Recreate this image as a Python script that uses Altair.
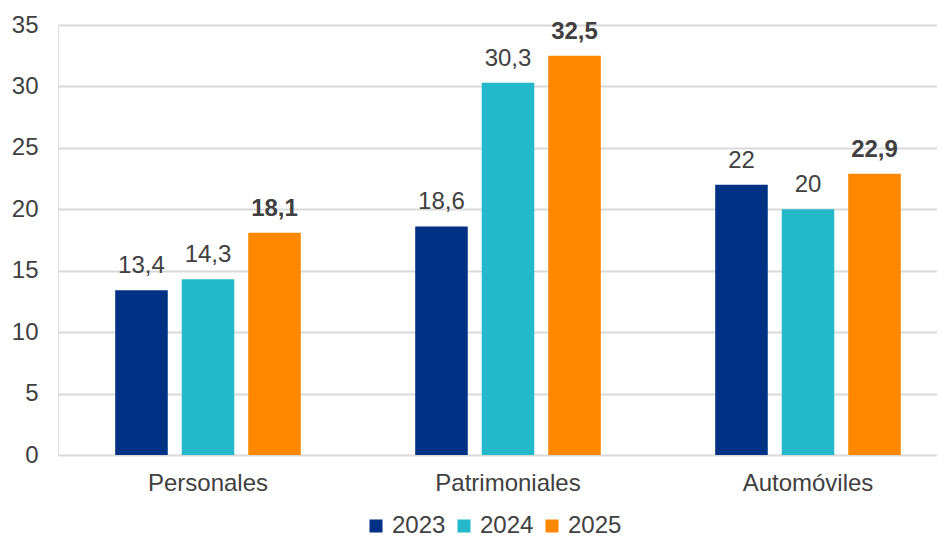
import altair as alt
import pandas as pd

categories = ["Personales", "Patrimoniales", "Automóviles"]
years = ["2023", "2024", "2025"]
values_2023 = [13.4, 18.6, 22.0]
values_2024 = [14.3, 30.3, 20.0]
values_2025 = [18.1, 32.5, 22.9]
colors = ["#003184", "#23B9CB", "#FF8800"]
y_ticks = [0, 5, 10, 15, 20, 25, 30, 35]

def fmt(v):
    s = ("%g" % v)
    return s.replace(".", ",")

rows = []
for yr, vals in zip(years, [values_2023, values_2024, values_2025]):
    for c, v in zip(categories, vals):
        rows.append({"cat": c, "year": yr, "value": v, "label": fmt(v), "bold": yr == "2025"})
df = pd.DataFrame(rows)

FONT = "Liberation Sans"
TXT = "#404040"
FS = 24

x = alt.X("cat:N", sort=categories, title=None,
          scale=alt.Scale(range=[0, 900], paddingInner=0, paddingOuter=0),
          axis=alt.Axis(labelAngle=0, labelFontSize=FS, labelColor=TXT, labelFont=FONT,
                        domain=False, ticks=False, labelPadding=16))
xo = alt.XOffset("year:N", sort=years,
                 scale=alt.Scale(paddingInner=0.21, paddingOuter=0.86))
y = alt.Y("value:Q", title=None,
          scale=alt.Scale(domain=[0, 35], nice=False),
          axis=alt.Axis(values=y_ticks, labelFontSize=FS, labelColor=TXT, labelFont=FONT,
                        domain=False, ticks=False, labelPadding=20,
                        gridColor="#D9D9D9", gridWidth=2))

bars = alt.Chart(df).mark_bar().encode(
    x=x, xOffset=xo, y=y,
    color=alt.Color("year:N", sort=years, title=None,
                    scale=alt.Scale(domain=years, range=colors),
                    legend=alt.Legend(orient="none", legendX=306, legendY=489,
                                      direction="horizontal", symbolType="square",
                                      symbolSize=170, symbolStrokeWidth=0,
                                      labelFontSize=FS, labelFont=FONT, labelColor=TXT,
                                      columnPadding=6, labelOffset=4)),
)

labels_normal = alt.Chart(df[~df["bold"]]).mark_text(
    baseline="alphabetic", dy=-17, fontSize=FS, font=FONT, color=TXT
).encode(x=x, xOffset=xo, y=y, text="label:N")

labels_bold = alt.Chart(df[df["bold"]]).mark_text(
    baseline="alphabetic", dy=-17, fontSize=FS, font=FONT, color=TXT, fontWeight="bold"
).encode(x=x, xOffset=xo, y=y, text="label:N")

chart = alt.layer(bars, labels_normal, labels_bold).properties(
    width=879, height=430,
    autosize=alt.AutoSizeParams(type="none"),
    padding={"left": 50, "top": 17, "right": 0, "bottom": 83},
).configure_view(stroke=None).configure(font=FONT)

chart.save("out.html", embed_options={"renderer": "svg", "actions": False})
